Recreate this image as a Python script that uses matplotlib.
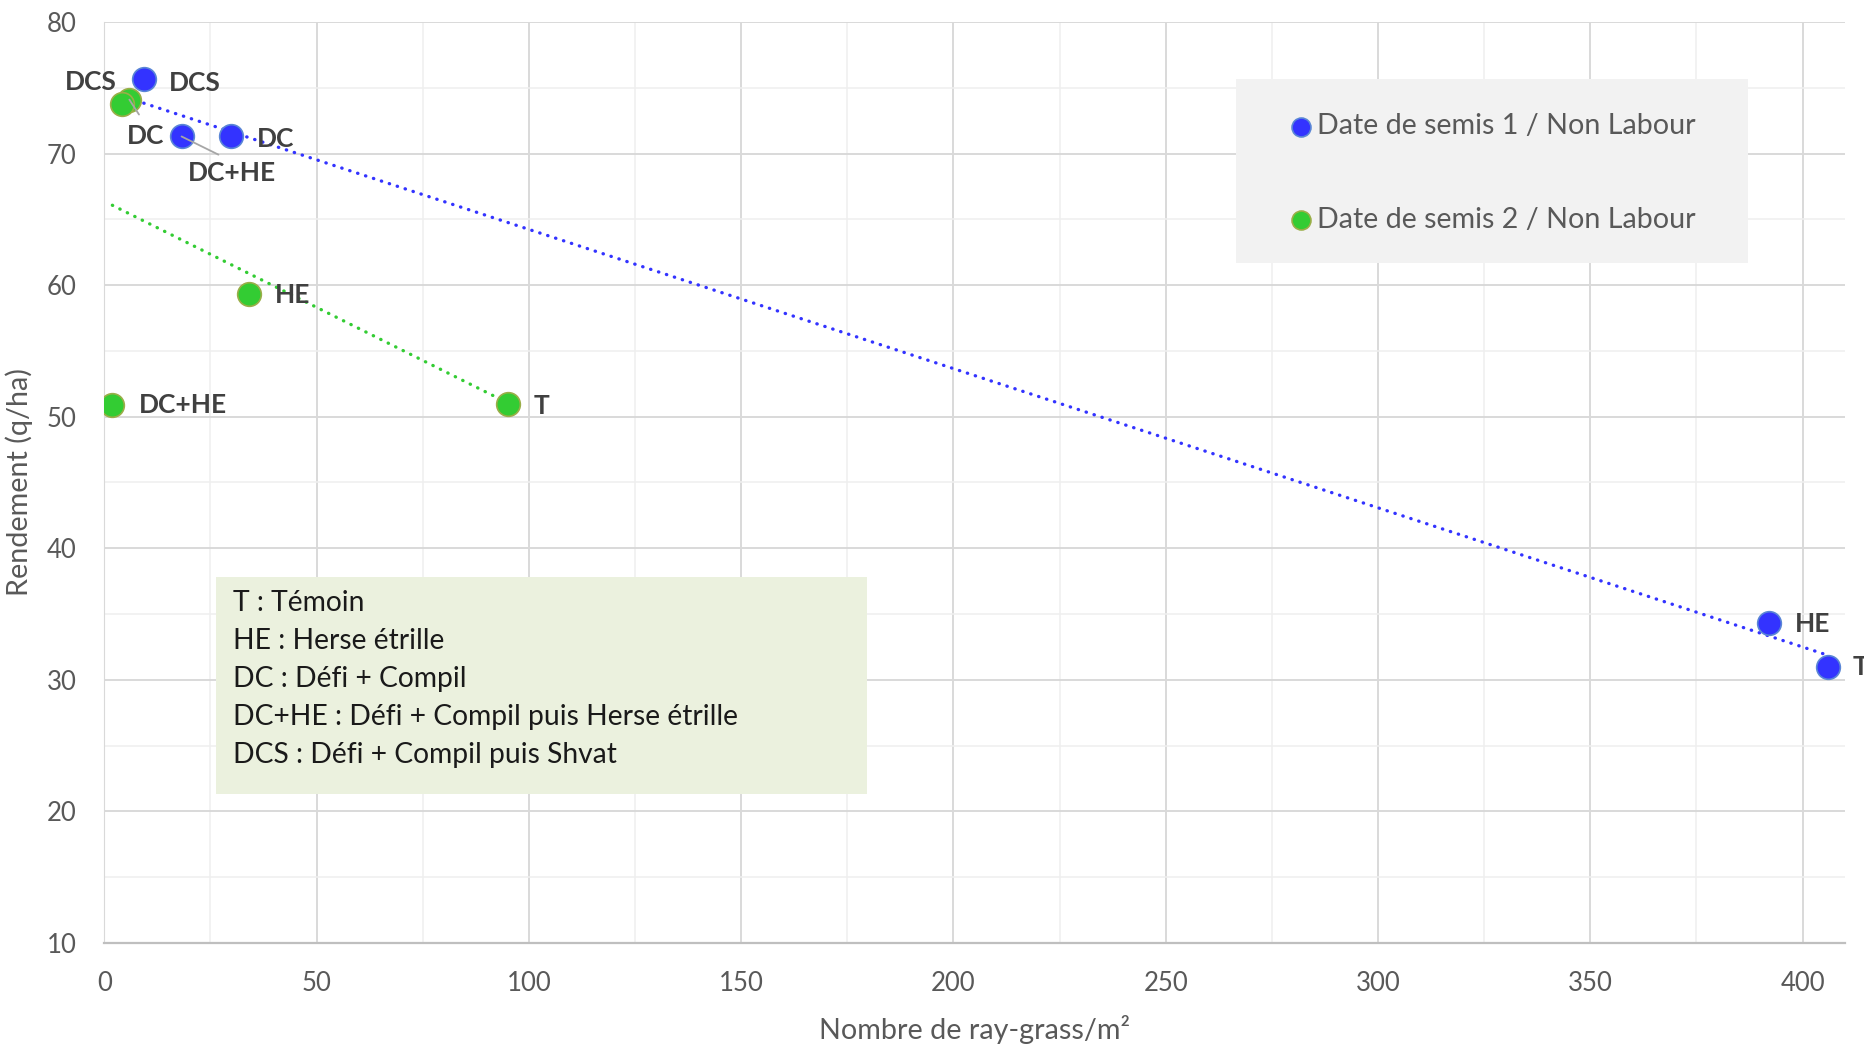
import matplotlib.pyplot as plt
import matplotlib.patches as mpatches
from matplotlib.ticker import MultipleLocator
import numpy as np

plt.rcParams['font.family'] = ['Lato', 'DejaVu Sans']

# Données : nombre de ray-grass/m² et rendement (q/ha)
codes = ['T', 'HE', 'DC', 'DC+HE', 'DCS']
x_semis1 = [406.0, 392.0, 29.8, 18.2, 9.3]
y_semis1 = [31.0, 34.3, 71.3, 71.3, 75.7]
x_semis2 = [95.2, 34.2, 5.9, 1.9, 4.1]
y_semis2 = [51.0, 59.3, 74.1, 50.9, 73.8]
series_noms = ['Date de semis 1 / Non Labour', 'Date de semis 2 / Non Labour']
legende_codes = [
    'T : Témoin',
    'HE : Herse étrille',
    'DC : Défi + Compil',
    'DC+HE : Défi + Compil puis Herse étrille',
    'DCS : Défi + Compil puis Shvat',
]
x_ticks = [0, 50, 100, 150, 200, 250, 300, 350, 400]
y_ticks = [10, 20, 30, 40, 50, 60, 70, 80]

bleu, bleu_bord = '#3333ff', '#5a86d6'
vert, vert_bord = '#33cc33', '#9aae48'
gris_texte = '#595959'
gris_label = '#404040'

W, H = 1864, 1044
fig = plt.figure(figsize=(W / 100, H / 100), dpi=100)
ax = fig.add_axes([104.3 / W, 1 - 943 / H, (1845 - 104.3) / W, (943 - 22) / H])

ax.set_xlim(0, 410)
ax.set_ylim(10, 80)
ax.set_xticks(x_ticks)
ax.set_yticks(y_ticks)
ax.xaxis.set_minor_locator(MultipleLocator(25))
ax.yaxis.set_minor_locator(MultipleLocator(5))
ax.grid(which='major', color='#d9d9d9', lw=1.4)
ax.grid(which='minor', color='#efefef', lw=1.1)
ax.tick_params(which='both', length=0)
ax.tick_params(axis='both', labelsize=18.5, labelcolor=gris_texte, pad=20)
for s in ['top', 'right']:
    ax.spines[s].set_visible(False)
ax.spines['left'].set_color('#d9d9d9')
ax.spines['bottom'].set_color('#bfbfbf')
ax.spines['bottom'].set_linewidth(1.6)

ax.set_xlabel('Nombre de ray-grass/m²', fontsize=20.7, color=gris_texte)
ax.set_ylabel('Rendement (q/ha)', fontsize=20.7, color=gris_texte)
ax.xaxis.set_label_coords(0.5, -0.0934)
ax.xaxis.label.set_va('center')
ax.yaxis.set_label_coords(-0.049, 0.5)
ax.yaxis.label.set_va('center')

# courbes de tendance linéaires
for xs, ys, c in [(x_semis1, y_semis1, bleu), (x_semis2, y_semis2, vert)]:
    a, b = np.polyfit(xs, ys, 1)
    xx = np.array([min(xs), max(xs)])
    ax.plot(xx, a * xx + b, color=c, lw=2.4, linestyle=(0, (0.1, 2.4)),
            dash_capstyle='round', zorder=2.5)

pts1 = ax.scatter(x_semis1, y_semis1, s=290, color=bleu, edgecolor=bleu_bord,
                  lw=1.2, zorder=3, label=series_noms[0])
pts2 = ax.scatter(x_semis2, y_semis2, s=290, color=vert, edgecolor=vert_bord,
                  lw=1.2, zorder=3, label=series_noms[1])

# étiquettes des points (décalage en points, alignement, trait de rappel)
decal1 = {
    'T': ((18, 0), 'left', None),
    'HE': ((18.7, -0.7), 'left', None),
    'DC': ((19, -2), 'left', None),
    'DC+HE': ((36, -26.4), 'center', (0.5, 1.0)),
    'DCS': ((18.2, -3.2), 'left', None),
}
decal2 = {
    'T': ((18, -1.5), 'left', None),
    'HE': ((18.2, -0.7), 'left', None),
    'DC': ((11.5, -26.4), 'center', (0.5, 1.0)),
    'DC+HE': ((19, 0), 'left', None),
    'DCS': ((-22, 15.7), 'center', None),
}
for xs, ys, decal in [(x_semis1, y_semis1, decal1), (x_semis2, y_semis2, decal2)]:
    for code, x, y in zip(codes, xs, ys):
        off, ha, rel = decal[code]
        arrow = None
        if rel is not None:
            arrow = dict(arrowstyle='-', color='#a6a6a6', lw=1.3,
                         relpos=rel, shrinkA=6, shrinkB=0)
        ax.annotate(code, (x, y), xytext=off, textcoords='offset points',
                    ha=ha, va='center', fontsize=19, fontweight='bold',
                    color=gris_label, arrowprops=arrow, zorder=4,
                    annotation_clip=False)

# cadre de la légende des séries
ax.add_patch(mpatches.Rectangle((1236.4 / W, 1 - 262.7 / H), 511.2 / W, 184.2 / H,
                                transform=fig.transFigure, facecolor='#f2f2f2',
                                edgecolor='none', zorder=2, clip_on=False))
leg = ax.legend(handles=[pts1, pts2], loc='upper left',
                bbox_to_anchor=(1290 / W, 1 - 113.5 / H),
                bbox_transform=fig.transFigure, frameon=False, fontsize=20.6,
                labelcolor=gris_texte, markerscale=0.8, handlelength=0.75,
                handletextpad=0.2, labelspacing=2.35, borderpad=0,
                borderaxespad=0)
leg.set_zorder(5)

# cadre des codes de traitement
ax.add_patch(mpatches.Rectangle((216.4 / W, 1 - 794.1 / H), 650.3 / W, 217.5 / H,
                                transform=fig.transFigure, facecolor='#ebf1de',
                                edgecolor='none', zorder=2, clip_on=False))
for i, ligne in enumerate(legende_codes):
    fig.text(233 / W, 1 - (602.7 + 38.05 * i) / H, ligne, fontsize=20.3,
             color='#1a1a1a', ha='left', va='center', zorder=5)

fig.savefig('out.png', dpi=100)
